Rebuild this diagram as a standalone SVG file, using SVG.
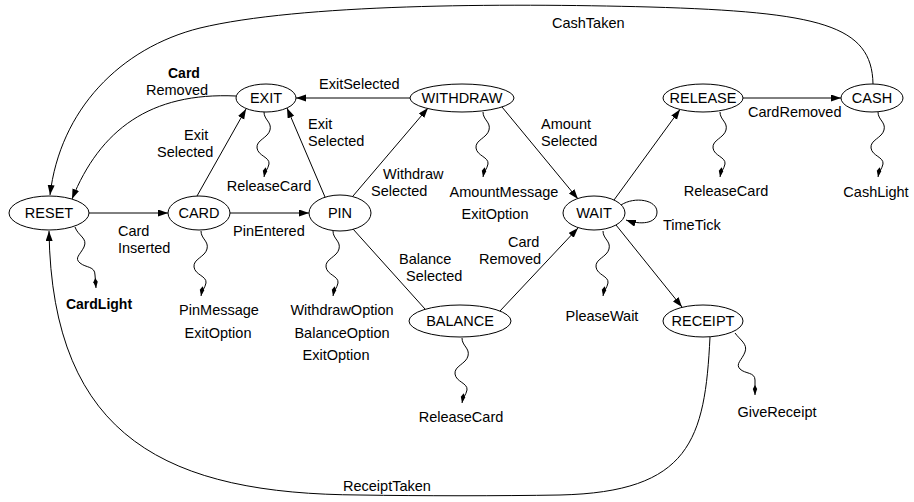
<svg xmlns="http://www.w3.org/2000/svg" width="914" height="502" viewBox="0 0 914 502">
<style>
text{font-family:"Liberation Sans",Arial,sans-serif;font-size:14.5px;fill:#000}
.n ellipse{fill:#fff;stroke:#000;stroke-width:1}
.n text{text-anchor:middle}
.e{fill:none;stroke:#000;stroke-width:1}
.a{marker-end:url(#ah)}
.w{fill:none;stroke:#000;stroke-width:1;marker-end:url(#wh)}
.b{font-weight:bold;font-size:14px}
.m{text-anchor:middle}
</style>
<defs>
<marker id="ah" markerUnits="userSpaceOnUse" markerWidth="11" markerHeight="8" refX="10" refY="3.5" orient="auto"><path d="M0,0 L10,3.5 L0,7 z" fill="#000"/></marker>
<marker id="wh" markerUnits="userSpaceOnUse" markerWidth="11" markerHeight="7" refX="10" refY="3" orient="auto"><path d="M0,3 L4,0.8 L10,3 L4,5.2 z" fill="#000"/></marker>
<path id="wig" d="M0,0 C0,8 8,10 6,18 C4,26 -8,28 -7,36 C-6,44 6,45 5,52 C4,57 1,59 0,65"/>
</defs>
<rect width="914" height="502" fill="#fff"/>

<g id="connectors">
  <path class="e a" d="M89,213 L168,213"/>
  <path class="e a" d="M230,213 L309,213"/>
  <path class="e a" d="M197,196 L246,109"/>
  <path class="e a" d="M325,197 L287,108"/>
  <path class="e a" d="M353,196 L428,108"/>
  <path class="e a" d="M410,98 L296,98"/>
  <path class="e a" d="M502,107 L578,199"/>
  <path class="e" d="M353,229 L425,309"/>
  <path class="e a" d="M500,311 L578,228"/>
  <path class="e a" d="M614,200 L680,109.5"/>
  <path class="e a" d="M743,98 L841,98"/>
  <path class="e a" d="M616,225 L682,307"/>
  <path class="e a" d="M621,205 C635,196 657,200 657,212 C657,224 640,225 626,220"/>
  <path class="e a" d="M236,96 C150,92 100,130 72,199"/>
  <path class="e a" d="M873,84 C872,25 820,12 650,7 C500,3 300,4 200,28 C120,48 60,110 50,195"/>
  <path class="e a" d="M710,337 C705,440 690,492 560,495 C500,496 420,496 360,495 C170,494 52,440 49,231"/>

  <text x="118" y="236">Card</text>
  <text x="118" y="253">Inserted</text>
  <text x="233" y="236">PinEntered</text>
  <text x="184" y="140">Exit</text>
  <text x="157" y="157">Selected</text>
  <text x="308" y="129">Exit</text>
  <text x="308" y="146">Selected</text>
  <text x="319" y="89">ExitSelected</text>
  <text x="383" y="179">Withdraw</text>
  <text x="371" y="196">Selected</text>
  <text x="541" y="129">Amount</text>
  <text x="541" y="146">Selected</text>
  <text x="399" y="264">Balance</text>
  <text x="406" y="281">Selected</text>
  <text x="508" y="247">Card</text>
  <text x="479" y="264">Removed</text>
  <text x="748" y="117">CardRemoved</text>
  <text x="663" y="230">TimeTick</text>
  <text x="552" y="28">CashTaken</text>
  <text x="343" y="491">ReceiptTaken</text>
  <text class="b" x="168" y="78">Card</text>
  <text x="146" y="95">Removed</text>
</g>

<g id="outputs">
  <path class="w" d="M75,227 C78,236 88,238 84,247 C80,255 74,258 80,263 C86,268 95,266 95,275 L96,288"/>
  <text class="b m" x="99" y="309">CardLight</text>
  <use href="#wig" class="w" x="201" y="231"/>
  <text class="m" x="219" y="315">PinMessage</text>
  <text class="m" x="218" y="338">ExitOption</text>
  <use href="#wig" class="w" x="333" y="231"/>
  <text class="m" x="342" y="315">WithdrawOption</text>
  <text class="m" x="342" y="338">BalanceOption</text>
  <text class="m" x="336" y="360">ExitOption</text>
  <use href="#wig" class="w" x="264" y="112"/>
  <text class="m" x="269" y="191">ReleaseCard</text>
  <use href="#wig" class="w" x="483" y="112"/>
  <text class="m" x="504" y="197">AmountMessage</text>
  <text class="m" x="495" y="219">ExitOption</text>
  <use href="#wig" class="w" x="720" y="112"/>
  <text class="m" x="726" y="196">ReleaseCard</text>
  <use href="#wig" class="w" x="878" y="112"/>
  <text class="m" x="876" y="197">CashLight</text>
  <use href="#wig" class="w" x="603" y="231"/>
  <text class="m" x="602" y="321">PleaseWait</text>
  <use href="#wig" class="w" x="462" y="338"/>
  <text class="m" x="461" y="422">ReleaseCard</text>
  <path class="w" d="M735,333 C740,340 748,344 745,352 C742,360 735,364 740,369 C745,374 755,372 755,380 L755,395"/>
  <text class="m" x="777" y="417">GiveReceipt</text>
</g>

<g id="RESET" class="n"><ellipse cx="49" cy="213" rx="40" ry="17"/><text x="49" y="218">RESET</text></g>
<g id="CARD" class="n"><ellipse cx="199" cy="213" rx="31" ry="17"/><text x="199" y="218">CARD</text></g>
<g id="PIN" class="n"><ellipse cx="340" cy="213" rx="31" ry="18"/><text x="340" y="218">PIN</text></g>
<g id="EXIT" class="n"><ellipse cx="266" cy="98" rx="30" ry="14"/><text x="266" y="103">EXIT</text></g>
<g id="WITHDRAW" class="n"><ellipse cx="462" cy="98" rx="52" ry="14"/><text x="462" y="103">WITHDRAW</text></g>
<g id="RELEASE" class="n"><ellipse cx="703" cy="98" rx="40" ry="14"/><text x="703" y="103">RELEASE</text></g>
<g id="CASH" class="n"><ellipse cx="872" cy="98" rx="31" ry="14"/><text x="872" y="103">CASH</text></g>
<g id="WAIT" class="n"><ellipse cx="594" cy="213" rx="31" ry="17"/><text x="594" y="218">WAIT</text></g>
<g id="BALANCE" class="n"><ellipse cx="460" cy="321" rx="51" ry="16"/><text x="460" y="326">BALANCE</text></g>
<g id="RECEIPT" class="n"><ellipse cx="703" cy="321" rx="40" ry="16"/><text x="703" y="326">RECEIPT</text></g>
</svg>
